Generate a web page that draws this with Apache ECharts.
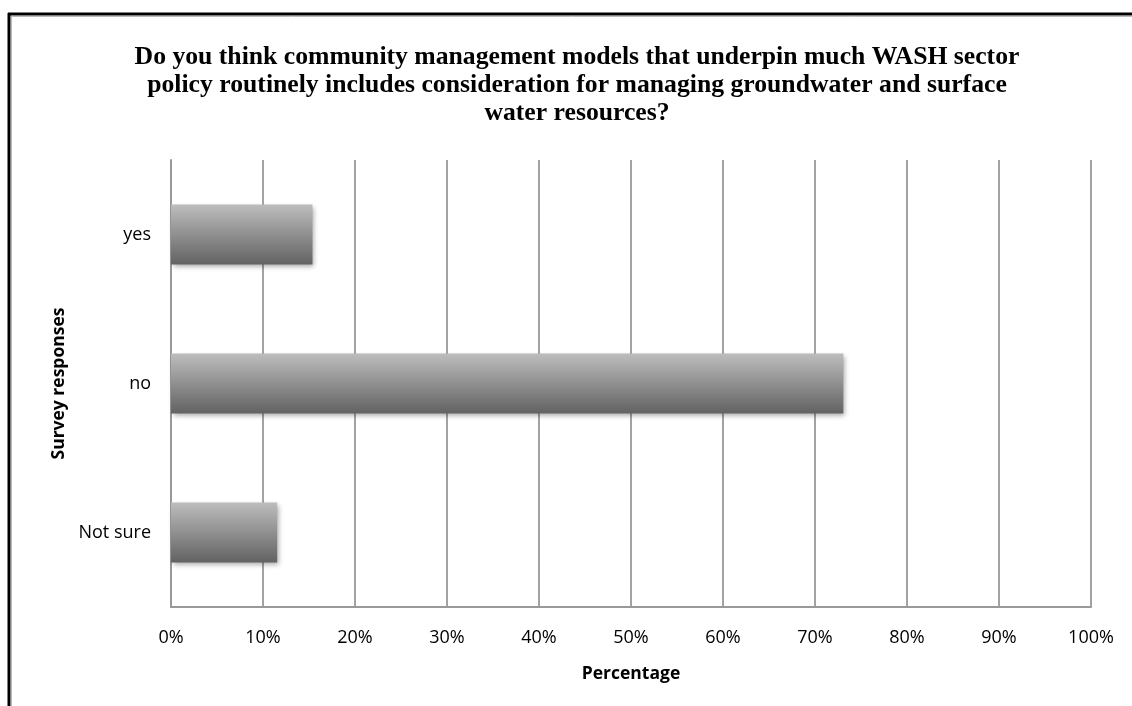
<!DOCTYPE html>
<html>
<head>
<meta charset="utf-8">
<script src="https://cdn.jsdelivr.net/npm/echarts@6/dist/echarts.min.js"></script>
<style>
  html, body { margin: 0; padding: 0; background: #fff; }
  #chart { width: 1132px; height: 706px; }
</style>
</head>
<body>
<div id="chart"></div>
<script>
// Survey answers and their share of respondents (percent)
const categories = ['yes', 'no', 'Not sure'];
const percentages = [15.38, 73.08, 11.54];
const xTicks = [0, 10, 20, 30, 40, 50, 60, 70, 80, 90, 100];

const titleText = 'Do you think community management models that underpin much WASH sector\n' +
  'policy routinely includes consideration for managing groundwater and surface\n' +
  'water resources?';

const chart = echarts.init(document.getElementById('chart'), null, { renderer: 'canvas' });

const barGradient = new echarts.graphic.LinearGradient(0, 0, 0, 1, [
  { offset: 0, color: '#bdbdbd' },
  { offset: 1, color: '#626262' }
]);

const labelFont = '"Open Sans", sans-serif';

chart.setOption({
  animation: false,
  backgroundColor: '#ffffff',
  title: {
    text: titleText,
    left: 572,
    textAlign: 'center',
    top: 38,
    textStyle: {
      fontFamily: '"Liberation Serif", "Times New Roman", serif',
      fontWeight: 'bold',
      fontSize: 25.7,
      lineHeight: 28,
      color: '#000'
    }
  },
  grid: { left: 171, right: 41, top: 160, bottom: 99, containLabel: false },
  xAxis: {
    type: 'value',
    min: xTicks[0],
    max: xTicks[xTicks.length - 1],
    interval: 10,
    name: 'Percentage',
    nameLocation: 'middle',
    nameGap: 58,
    nameTextStyle: {
      fontFamily: labelFont,
      fontWeight: 'bold',
      fontSize: 17.5,
      color: '#000'
    },
    axisLine: { show: true, lineStyle: { color: '#999', width: 2 } },
    axisTick: { show: false },
    axisLabel: {
      margin: 22,
      formatter: v => v + '%',
      fontFamily: labelFont,
      fontSize: 18,
      color: '#000'
    },
    splitLine: { show: true, lineStyle: { color: '#a3a3a3', width: 2 } }
  },
  yAxis: {
    type: 'category',
    data: categories,
    inverse: true,
    name: 'Survey responses',
    nameLocation: 'middle',
    nameGap: 95,
    nameRotate: 90,
    nameTextStyle: {
      fontFamily: labelFont,
      fontWeight: 'bold',
      fontSize: 17.5,
      color: '#000'
    },
    axisLine: { show: true, lineStyle: { color: '#999', width: 2 } },
    axisTick: { show: false },
    axisLabel: {
      margin: 20,
      fontFamily: labelFont,
      fontSize: 18,
      color: '#000'
    }
  },
  series: [{
    type: 'bar',
    data: percentages,
    barWidth: 60,
    itemStyle: {
      color: barGradient,
      shadowColor: 'rgba(0,0,0,0.35)',
      shadowBlur: 5,
      shadowOffsetX: 2,
      shadowOffsetY: 2
    }
  }],
  graphic: [
    // frame: heavy top and left rules
    { type: 'line', shape: { x1: 8, y1: 14, x2: 1132, y2: 14 }, style: { stroke: '#000', lineWidth: 3 } },
    { type: 'line', shape: { x1: 9, y1: 13, x2: 9, y2: 706 }, style: { stroke: '#000', lineWidth: 3 } },
    { type: 'line', shape: { x1: 11, y1: 16.5, x2: 1132, y2: 16.5 }, style: { stroke: '#bbb', lineWidth: 1 } },
    { type: 'line', shape: { x1: 11.5, y1: 16, x2: 11.5, y2: 706 }, style: { stroke: '#bbb', lineWidth: 1 } }
  ]
});
</script>
</body>
</html>
